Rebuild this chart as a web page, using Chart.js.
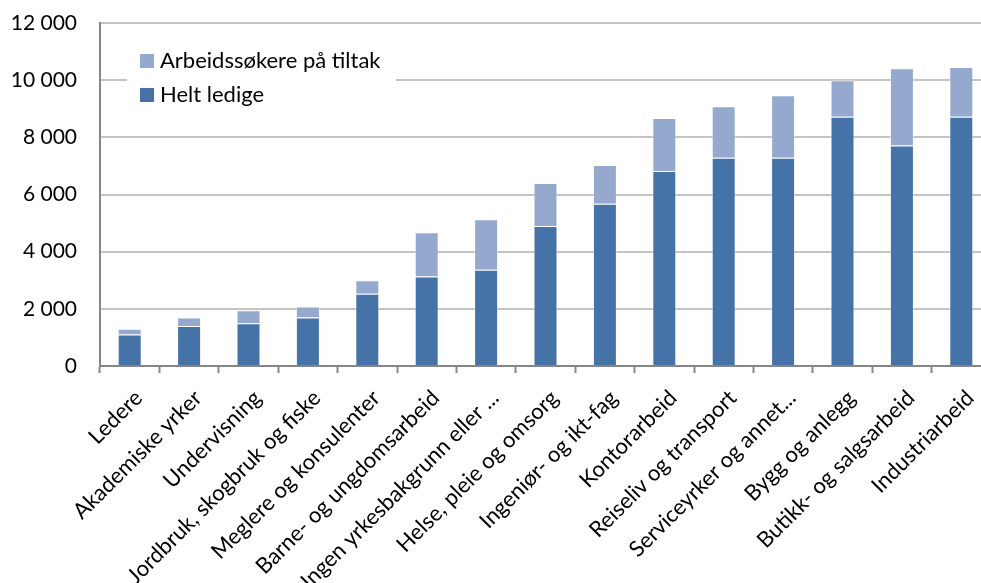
<!DOCTYPE html>
<html>
<head>
<meta charset="utf-8">
<script src="https://cdn.jsdelivr.net/npm/chart.js@4/dist/chart.umd.min.js"></script>
<style>
  html, body { margin: 0; padding: 0; background: #fff; overflow: hidden; }
  #wrap { width: 1000px; height: 583px; }
</style>
</head>
<body>
<div id="wrap"><canvas id="chart" width="1000" height="583"></canvas></div>
<script>
const categories = [
  "Ledere",
  "Akademiske yrker",
  "Undervisning",
  "Jordbruk, skogbruk og fiske",
  "Meglere og konsulenter",
  "Barne- og ungdomsarbeid",
  "Ingen yrkesbakgrunn eller ...",
  "Helse, pleie og omsorg",
  "Ingeniør- og ikt-fag",
  "Kontorarbeid",
  "Reiseliv og transport",
  "Serviceyrker og annet...",
  "Bygg og anlegg",
  "Butikk- og salgsarbeid",
  "Industriarbeid"
];

const heltLedige = [1100, 1400, 1500, 1700, 2530, 3130, 3370, 4900, 5680, 6820, 7290, 7290, 8720, 7710, 8720];
const paTiltak   = [200, 300, 450, 380, 470, 1550, 1760, 1500, 1350, 1860, 1800, 2180, 1280, 2710, 1740];

const yTicks = [0, 2000, 4000, 6000, 8000, 10000, 12000];

const FONT = "Lato, 'Noto Sans', sans-serif";
const DARK = "#4573a7";
const LIGHT = "#95a9cf";

function fmt(v) {
  return String(v).replace(/\B(?=(\d{3})+(?!\d))/g, " ");
}

// legend drawn inside the plot, on a white box over the grid
const insideLegend = {
  id: "insideLegend",
  beforeDatasetsDraw(chart) {
    const ctx = chart.ctx;
    const items = [
      { label: chart.data.datasets[1].label, color: chart.data.datasets[1].backgroundColor },
      { label: chart.data.datasets[0].label, color: chart.data.datasets[0].backgroundColor }
    ];
    ctx.save();
    ctx.fillStyle = "#fff";
    ctx.fillRect(127, 38, 269, 80);
    ctx.font = "22px " + FONT;
    ctx.textBaseline = "middle";
    items.forEach((it, i) => {
      const y = 54 + i * 34;
      ctx.fillStyle = it.color;
      ctx.fillRect(140, y, 14, 14);
      ctx.fillStyle = "#000";
      ctx.fillText(it.label, 160, y + 7);
    });
    ctx.restore();
  }
};

new Chart(document.getElementById("chart"), {
  type: "bar",
  data: {
    labels: categories,
    datasets: [
      {
        label: "Helt ledige",
        data: heltLedige,
        backgroundColor: DARK,
        borderColor: "rgba(255,255,255,0.45)",
        borderWidth: 1,
        barPercentage: 0.404,
        categoryPercentage: 1
      },
      {
        label: "Arbeidssøkere på tiltak",
        data: paTiltak,
        backgroundColor: LIGHT,
        borderColor: "rgba(255,255,255,0.45)",
        borderWidth: 1,
        barPercentage: 0.404,
        categoryPercentage: 1
      }
    ]
  },
  options: {
    responsive: false,
    animation: false,
    layout: { padding: { top: 23, right: 9, left: 0, bottom: 0 } },
    plugins: {
      legend: { display: false },
      tooltip: { enabled: false }
    },
    scales: {
      x: {
        stacked: true,
        offset: true,
        afterFit: s => { s.height = 217; },
        grid: {
          offset: true,
          drawOnChartArea: false,
          drawTicks: true,
          tickLength: 7,
          tickColor: "#868686",
          tickWidth: 2
        },
        border: { color: "#868686", width: 2 },
        ticks: {
          autoSkip: false,
          maxRotation: 45,
          minRotation: 45,
          padding: 12,
          labelOffset: 9,
          color: "#000",
          font: { family: FONT, size: 22 }
        }
      },
      y: {
        stacked: true,
        min: 0,
        max: 12000,
        afterFit: s => { s.width = 100; s.paddingTop = 0; s.paddingBottom = 0; },
        afterBuildTicks: s => { s.ticks = yTicks.map(v => ({ value: v })); },
        grid: {
          color: "#c4c4c4",
          lineWidth: 2,
          drawTicks: false
        },
        border: { color: "#868686", width: 2 },
        ticks: {
          padding: 23,
          color: "#000",
          font: { family: FONT, size: 21 },
          callback: v => fmt(v)
        }
      }
    }
  },
  plugins: [insideLegend]
});
</script>
</body>
</html>
